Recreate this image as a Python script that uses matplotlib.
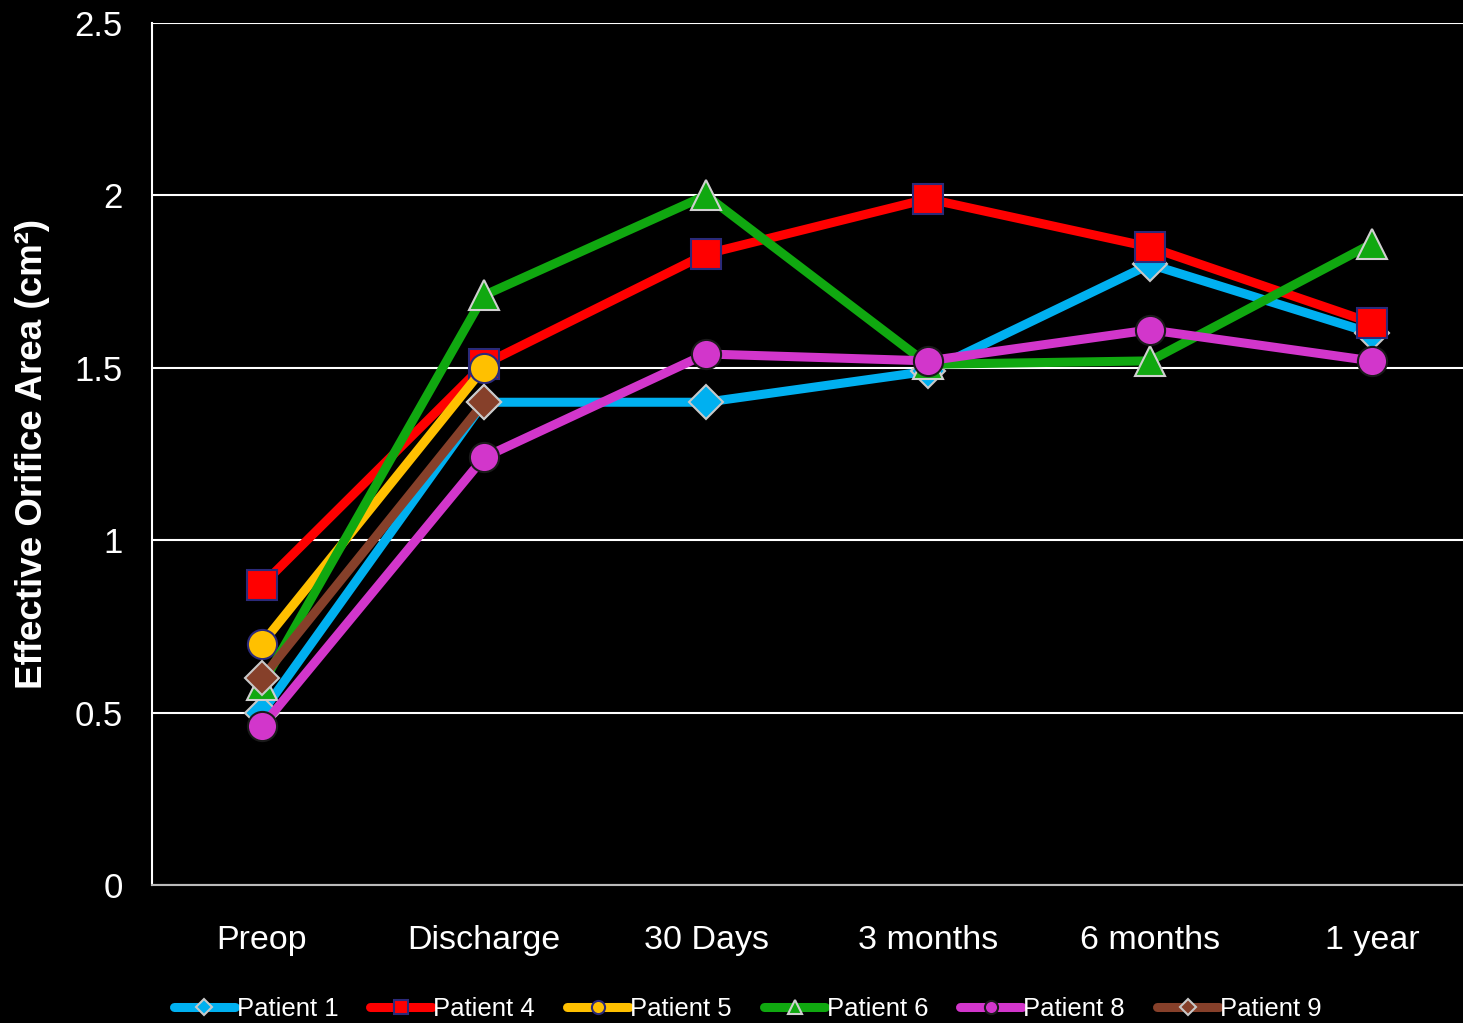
import matplotlib.pyplot as plt

# Categories and series values
timepoints = ["Preop", "Discharge", "30 Days", "3 months", "6 months", "1 year"]

patient_1 = [0.50, 1.40, 1.40, 1.49, 1.80, 1.60]
patient_4 = [0.87, 1.51, 1.83, 1.99, 1.85, 1.63]
patient_5 = [0.70, 1.50]
patient_6 = [0.58, 1.71, 2.00, 1.51, 1.52, 1.86]
patient_8 = [0.46, 1.24, 1.54, 1.52, 1.61, 1.52]
patient_9 = [0.60, 1.40]

series = [
    ("Patient 1", patient_1, "#00B0F0", "D", "#C8C8C8"),
    ("Patient 4", patient_4, "#FF0000", "s", "#2B2A7A"),
    ("Patient 5", patient_5, "#FFC000", "o", "#2B2A7A"),
    ("Patient 6", patient_6, "#10A810", "^", "#D0D0D0"),
    ("Patient 8", patient_8, "#D236CB", "o", "#1A1A1A"),
    ("Patient 9", patient_9, "#86402A", "D", "#C8C8C8"),
]
marker_sizes = {"D": 17, "s": 21, "o": 21, "^": 21}

fig = plt.figure(figsize=(14.63, 10.23), dpi=100, facecolor="black")
ax = fig.add_axes([0.104, 0.135, 0.896, 0.8425], facecolor="black")

x = list(range(len(timepoints)))
for name, vals, color, marker, edge in series:
    ax.plot(x[:len(vals)], vals, color=color, lw=6.5, marker=marker,
            markersize=marker_sizes[marker], markerfacecolor=color,
            markeredgecolor=edge, markeredgewidth=1.5, label=name,
            solid_capstyle="round", zorder=3)

ax.set_ylim(0, 2.5)
ax.set_xlim(-0.495, 5.41)
ax.set_yticks([0, 0.5, 1, 1.5, 2, 2.5])
ax.set_yticklabels(["0", "0.5", "1", "1.5", "2", "2.5"])
ax.set_xticks(x)
ax.set_xticklabels(timepoints)
ax.tick_params(axis="both", length=0, colors="white")
ax.tick_params(axis="y", pad=21, labelsize=25)
ax.tick_params(axis="x", pad=29, labelsize=24.5)
for lbl in ax.get_xticklabels() + ax.get_yticklabels():
    lbl.set_fontfamily("Liberation Sans")

ax.grid(axis="y", color="white", lw=1.5, zorder=1)
ax.set_axisbelow(True)
for side in ["top", "right"]:
    ax.spines[side].set_visible(False)
ax.spines["left"].set_color("white")
ax.spines["left"].set_linewidth(1.5)
ax.spines["bottom"].set_color("#BBBBBB")
ax.spines["bottom"].set_linewidth(1.5)

ax.set_ylabel("Effective Orifice Area (cm²)", color="white", fontsize=26.5,
              fontweight="bold", fontfamily="Liberation Sans", labelpad=18)

leg = fig.legend(loc="center", bbox_to_anchor=(0.511, 0.014), ncol=6,
                 frameon=False, markerscale=0.45,
                 handlelength=2.4, handletextpad=0.05, columnspacing=1.25,
                 prop={"family": "Liberation Sans", "size": 18.5})
for t in leg.get_texts():
    t.set_color("white")

fig.savefig("out.png", dpi=100, facecolor="black")
